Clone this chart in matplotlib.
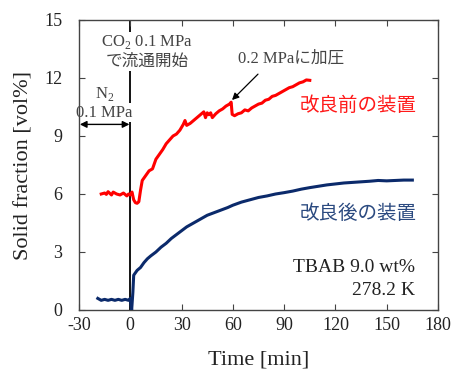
import matplotlib
matplotlib.use("Agg")
import matplotlib.pyplot as plt

plt.rcParams['font.family'] = ['Liberation Serif', 'Noto Sans CJK JP']
plt.rcParams['mathtext.fontset'] = 'custom'
plt.rcParams['mathtext.rm'] = 'Liberation Serif'
plt.rcParams['axes.unicode_minus'] = False

# Data: before improvement (red)
red_t = [-17, -15, -14, -13, -11, -10, -8, -6, -4, -2, -1, 0, 1, 2, 3, 4, 5, 6, 7, 9, 11, 13,
         15, 17, 19, 21, 23, 25, 27, 29, 31, 32, 33, 35, 37, 39, 41, 43, 44, 45, 46, 47, 48,
         50, 52, 54, 56, 58, 59, 59.6, 61, 63, 65, 67, 69, 71, 73, 75, 77, 79, 81, 83, 85,
         87, 89, 91, 93, 95, 97, 99, 101, 103, 105]
red_v = [6.0, 6.05, 5.98, 6.12, 5.95, 6.1, 6.0, 5.95, 6.05, 5.9, 6.0, 5.95, 6.1, 5.7, 5.55,
         5.52, 5.6, 6.2, 6.7, 6.95, 7.2, 7.3, 7.8, 8.05, 8.3, 8.6, 8.8, 9.0, 9.1, 9.3, 9.6,
         9.8, 9.55, 9.65, 9.8, 9.95, 10.1, 10.25, 9.95, 10.2, 10.1, 10.2, 9.95, 10.15, 10.3,
         10.4, 10.55, 10.65, 10.75, 10.12, 10.05, 10.15, 10.2, 10.35, 10.3, 10.45, 10.55,
         10.65, 10.7, 10.85, 10.9, 11.05, 11.1, 11.2, 11.3, 11.4, 11.5, 11.55, 11.65, 11.75,
         11.8, 11.9, 11.88]

# Data: after improvement (navy)
blue_t = [-19, -17, -15, -13, -11, -9, -7, -5, -3, -1, 0, 0.8, 1.5, 2, 4, 6, 8, 10, 12, 15,
          18, 21, 24, 27, 30, 33, 36, 39, 42, 45, 48, 51, 54, 57, 60, 65, 70, 75, 80, 85,
          90, 95, 100, 105, 110, 115, 120, 125, 130, 135, 140, 145, 150, 155, 160, 165]
blue_v = [0.6, 0.5, 0.55, 0.5, 0.55, 0.5, 0.55, 0.5, 0.55, 0.5, 0.6, 0.0, 0.9, 1.8, 2.05,
          2.2, 2.45, 2.65, 2.8, 3.0, 3.25, 3.45, 3.7, 3.9, 4.1, 4.3, 4.45, 4.6, 4.75, 4.9,
          5.0, 5.1, 5.2, 5.3, 5.42, 5.58, 5.7, 5.82, 5.9, 6.0, 6.07, 6.15, 6.25, 6.33, 6.4,
          6.47, 6.52, 6.57, 6.6, 6.63, 6.66, 6.7, 6.68, 6.7, 6.72, 6.72]

x_ticks = [-30, 0, 30, 60, 90, 120, 150, 180]
y_ticks = [0, 3, 6, 9, 12, 15]

fig = plt.figure(figsize=(4.54, 3.71), dpi=100)
ax = fig.add_axes([79 / 454, 1 - 310 / 371, (438 - 79) / 454, (310 - 20) / 371])

ax.axvline(0, color='black', lw=1.3, zorder=1)
ax.plot(red_t, red_v, color='#ff0000', lw=2.2, zorder=3)
ax.plot(blue_t, blue_v, color='#0b2a6b', lw=2.2, zorder=3)

ax.set_xlim(-30, 180)
ax.set_ylim(0, 15)
ax.set_xticks(x_ticks)
ax.set_yticks(y_ticks)
ax.tick_params(direction='in', top=True, right=True, length=4, labelsize=13,
               labelcolor='#222222', color='#444444')
ax.tick_params(axis='x', pad=5)
ax.tick_params(axis='y', pad=12)
for s in ax.spines.values():
    s.set_color('#444444')
    s.set_linewidth(1.0)

ax.set_xlabel('Time [min]', fontsize=16, color='#222222', labelpad=12)
ax.set_ylabel('Solid fraction [vol%]', fontsize=16, color='#222222', labelpad=8)

gray = '#444444'
bbox = dict(facecolor='white', edgecolor='none', pad=1)
ax.text(10, 13.85, 'CO$_2$ 0.1 MPa', ha='center', va='center', fontsize=12, color=gray,
        bbox=bbox, zorder=2)
ax.text(10, 12.85, 'で流通開始', ha='center', va='center', fontsize=12, color=gray,
        bbox=bbox, zorder=2)
ax.text(-15, 11.15, 'N$_2$', ha='center', va='center', fontsize=12, color=gray, zorder=2)
ax.text(-15, 10.2, '0.1 MPa', ha='center', va='center', fontsize=12, color=gray,
        bbox=bbox, zorder=2)
ax.annotate('', xy=(-0.5, 9.6), xytext=(-29.5, 9.6),
            arrowprops=dict(arrowstyle='<|-|>', color='black', lw=1.0,
                            shrinkA=0, shrinkB=0, mutation_scale=10), zorder=2)

ax.text(94, 13.0, '0.2 MPaに加圧', ha='center', va='center', fontsize=12, color=gray)
ax.annotate('', xy=(59.5, 10.86), xytext=(74.7, 12.2),
            arrowprops=dict(arrowstyle='-|>', color='black', lw=0.9,
                            shrinkA=0, shrinkB=0, mutation_scale=10))

ax.text(167.5, 10.55, '改良前の装置', ha='right', va='center', fontsize=14, color='#ff1a1a')
ax.text(167.5, 5.0, '改良後の装置', ha='right', va='center', fontsize=14, color='#2b4a80')
ax.text(166.5, 2.2, 'TBAB 9.0 wt%', ha='right', va='center', fontsize=14, color='#222222')
ax.text(166.5, 1.03, '278.2 K', ha='right', va='center', fontsize=14, color='#222222')

fig.savefig('out.png', dpi=100)
